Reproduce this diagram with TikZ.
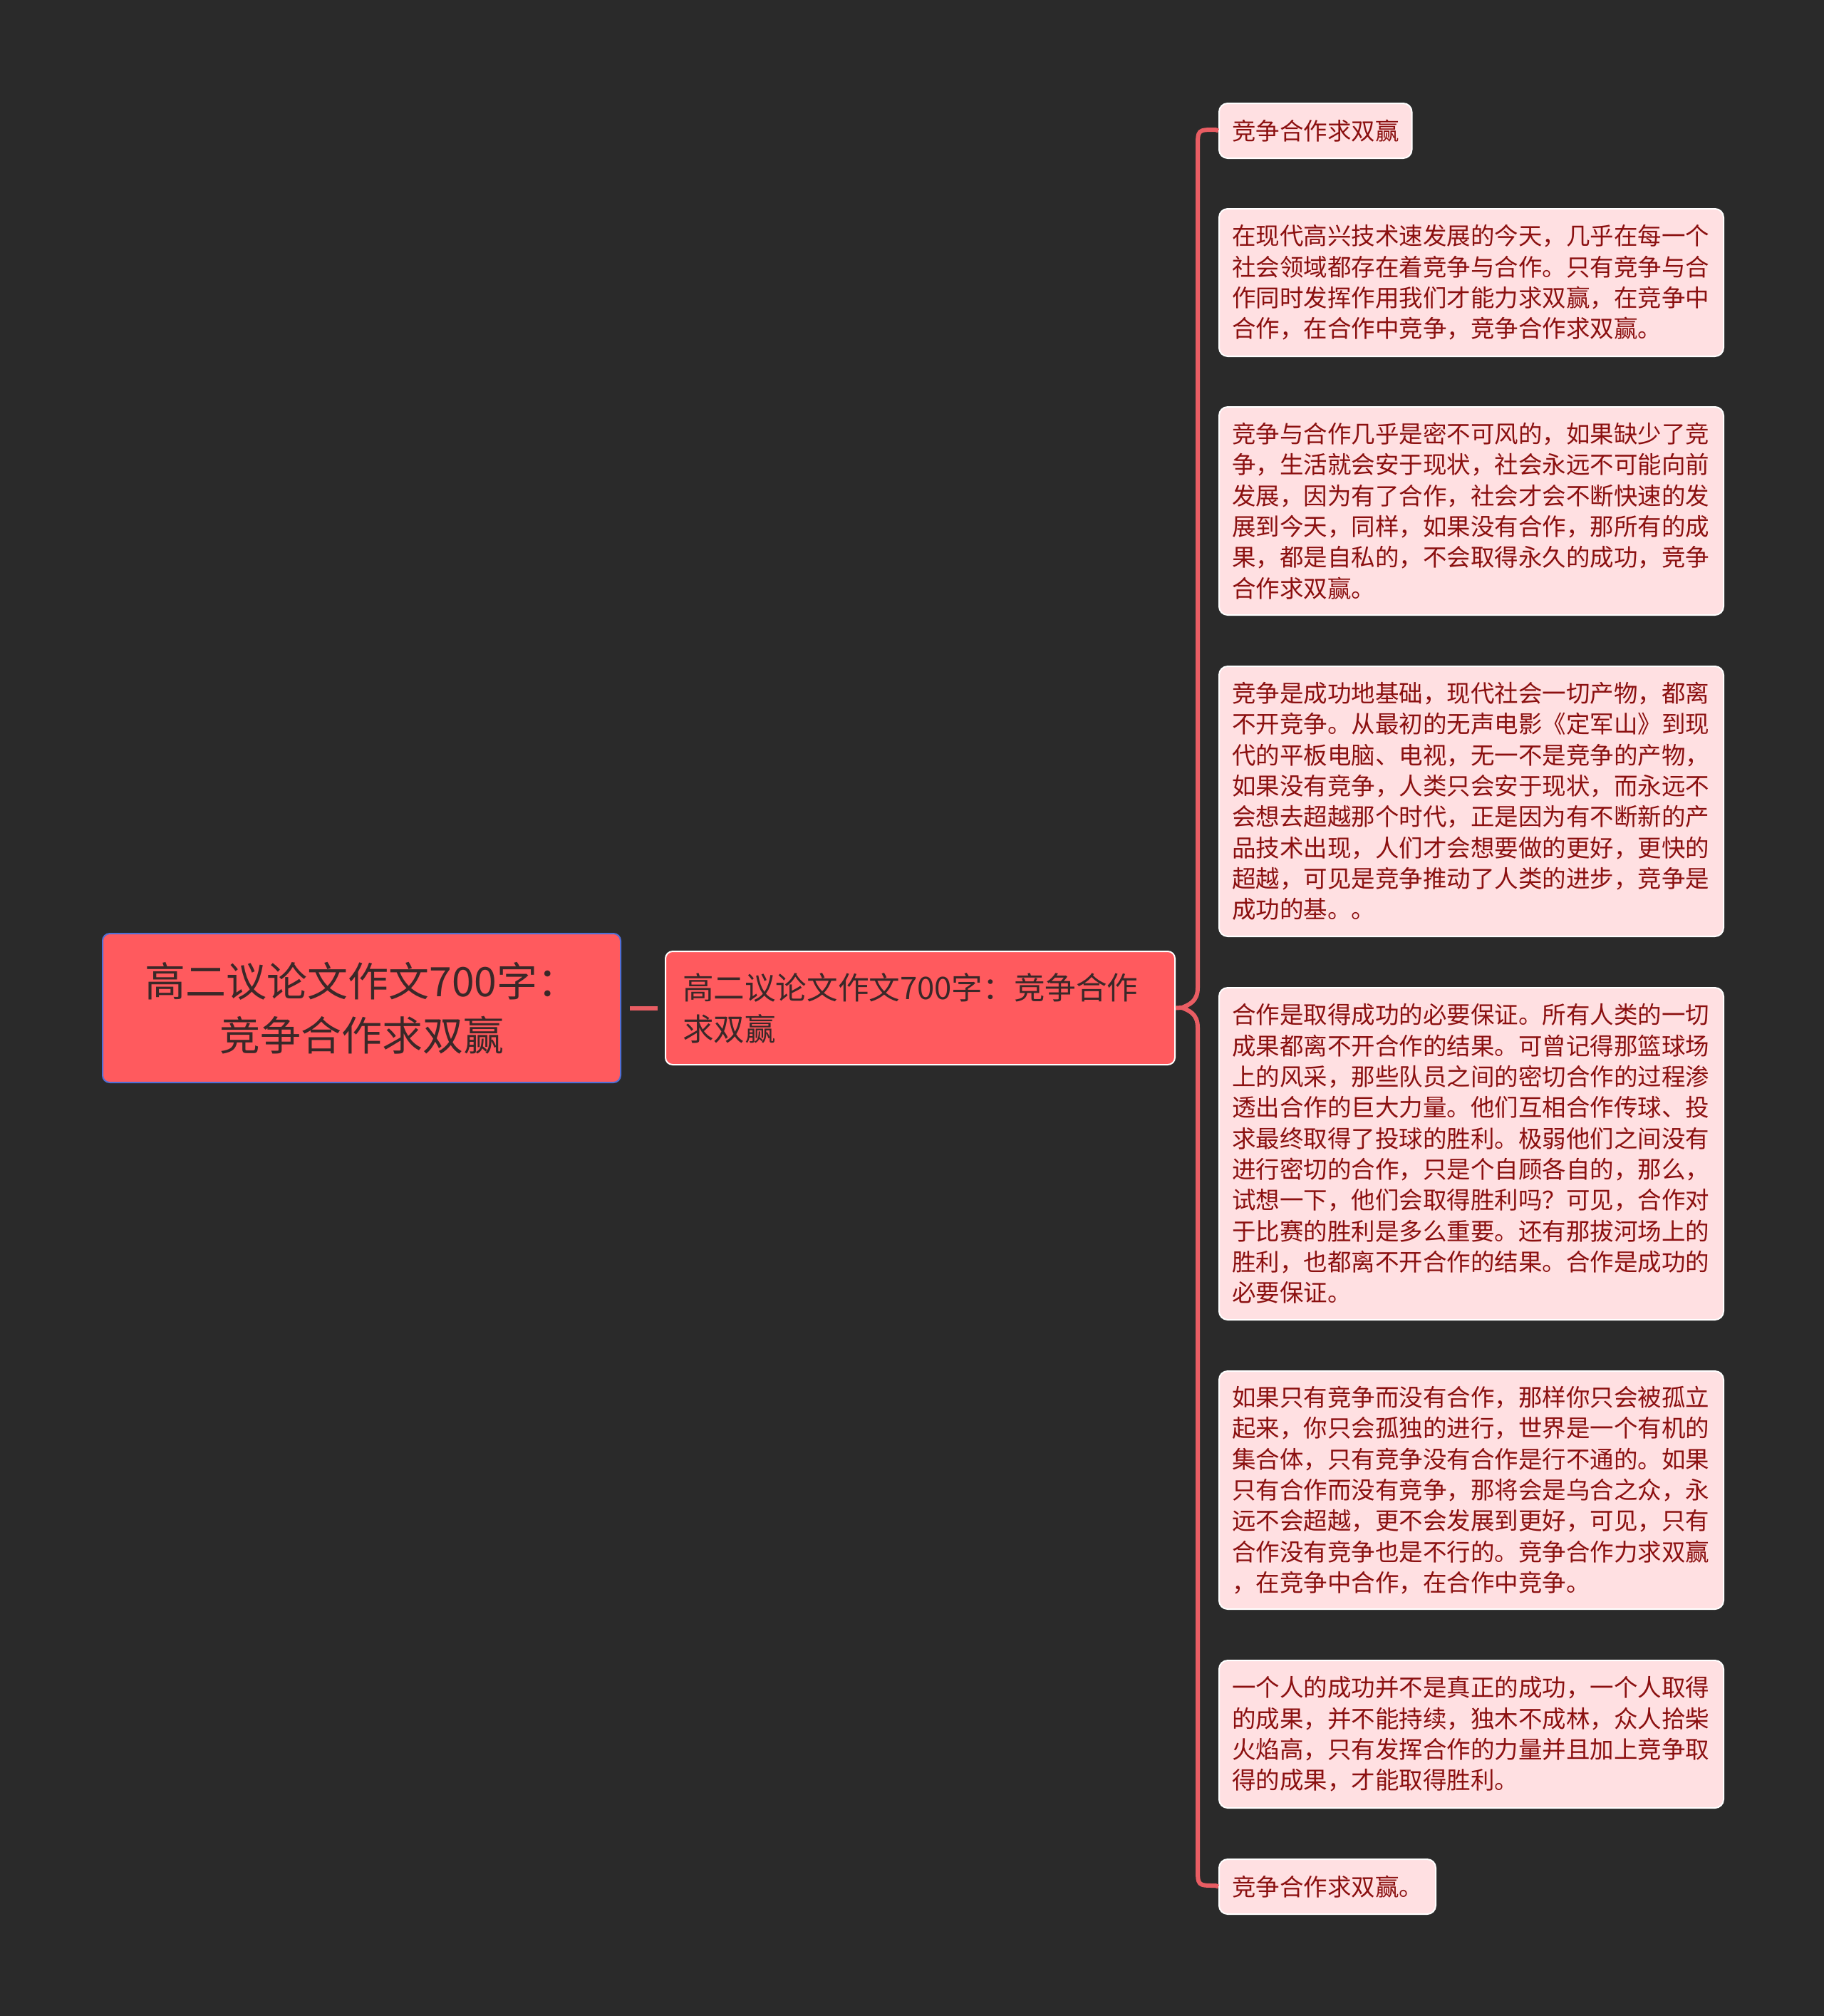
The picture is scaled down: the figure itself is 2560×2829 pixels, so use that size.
\documentclass[tikz,border=0pt]{standalone}
\usepackage{fontspec}
\setmainfont{Noto Sans CJK SC}
\definecolor{bgdark}{HTML}{2A2A2A}
\definecolor{rootred}{HTML}{FF5A5E}
\definecolor{rootblue}{HTML}{4F6FD6}
\definecolor{darktext}{HTML}{3A2828}
\definecolor{leaffill}{HTML}{FFE0E2}
\definecolor{leaftext}{HTML}{8B1010}
\definecolor{linkred}{HTML}{E95D63}

\begin{document}
\begin{tikzpicture}[x=0.5pt,y=-0.5pt,
  rootbox/.style={draw=rootblue,line width=1pt,fill=rootred,rounded corners=5pt,
    text=darktext,align=center,minimum width=363.5pt,minimum height=104.5pt,
    font=\fontsize{28.5pt}{38pt}\selectfont},
  mainbox/.style={draw=white,line width=1pt,fill=rootred,rounded corners=5pt,
    text=darktext,align=left,text width=333.5pt,inner xsep=12pt,minimum height=79.5pt,
    font=\fontsize{21.8pt}{29pt}\selectfont},
  leaf/.style={draw=white,line width=1pt,fill=leaffill,rounded corners=6pt,
    text=leaftext,align=left,anchor=north west,inner xsep=9pt,inner ysep=0pt,
    font=\fontsize{16.75pt}{21.65pt}\selectfont},
  longleaf/.style={leaf,text width=336pt},
  link/.style={linkred,line width=3pt}]
\useasboundingbox (0,0) rectangle (2560,2829);
\fill[bgdark] (0,0) rectangle (2560,2829);

\node[rootbox] (root) at (507.5,1414.5) {高二议论文作文700字：\\竞争合作求双赢};
\node[mainbox] (main) at (1291.5,1414.5) {高二议论文作文700字：竞争合作\\求双赢};

\node[leaf,minimum height=38.5pt] (l1) at (1710,144) {竞争合作求双赢};
\node[longleaf,minimum height=103.5pt] (l2) at (1710,292) {在现代高兴技术速发展的今天，几乎在每一个\\社会领域都存在着竞争与合作。只有竞争与合\\作同时发挥作用我们才能力求双赢，在竞争中\\合作，在合作中竞争，竞争合作求双赢。};
\node[longleaf,minimum height=146pt] (l3) at (1710,570) {竞争与合作几乎是密不可风的，如果缺少了竞\\争，生活就会安于现状，社会永远不可能向前\\发展，因为有了合作，社会才会不断快速的发\\展到今天，同样，如果没有合作，那所有的成\\果，都是自私的，不会取得永久的成功，竞争\\合作求双赢。};
\node[longleaf,minimum height=189.5pt] (l4) at (1710,934) {竞争是成功地基础，现代社会一切产物，都离\\不开竞争。从最初的无声电影《定军山》到现\\代的平板电脑、电视，无一不是竞争的产物，\\如果没有竞争，人类只会安于现状，而永远不\\会想去超越那个时代，正是因为有不断新的产\\品技术出现，人们才会想要做的更好，更快的\\超越，可见是竞争推动了人类的进步，竞争是\\成功的基。。};
\node[longleaf,minimum height=233pt] (l5) at (1710,1385) {合作是取得成功的必要保证。所有人类的一切\\成果都离不开合作的结果。可曾记得那篮球场\\上的风采，那些队员之间的密切合作的过程渗\\透出合作的巨大力量。他们互相合作传球、投\\求最终取得了投球的胜利。极弱他们之间没有\\进行密切的合作，只是个自顾各自的，那么，\\试想一下，他们会取得胜利吗？可见，合作对\\于比赛的胜利是多么重要。还有那拔河场上的\\胜利，也都离不开合作的结果。合作是成功的\\必要保证。};
\node[longleaf,minimum height=167pt] (l6) at (1710,1923) {如果只有竞争而没有合作，那样你只会被孤立\\起来，你只会孤独的进行，世界是一个有机的\\集合体，只有竞争没有合作是行不通的。如果\\只有合作而没有竞争，那将会是乌合之众，永\\远不会超越，更不会发展到更好，可见，只有\\合作没有竞争也是不行的。竞争合作力求双赢\\，在竞争中合作，在合作中竞争。};
\node[longleaf,minimum height=103.5pt] (l7) at (1710,2329) {一个人的成功并不是真正的成功，一个人取得\\的成果，并不能持续，独木不成林，众人拾柴\\火焰高，只有发挥合作的力量并且加上竞争取\\得的成果，才能取得胜利。};
\node[leaf,minimum height=38.5pt] (l8) at (1710,2608) {竞争合作求双赢。};

\coordinate (tip) at (1659,1414);
\draw[link,shorten <=6pt,shorten >=5pt] (root.east) -- (main.west);
\draw[link] (main.east) -- (tip);
\draw[link] (l1.west) -- (1706,182) .. controls (1681,182) .. (1681,207)
  -- (1681,1386) .. controls (1681,1406) and (1668,1410) .. (tip)
  .. controls (1668,1418) and (1681,1422) .. (1681,1442)
  -- (1681,2621) .. controls (1681,2646) .. (1706,2646) -- (l8.west);
\end{tikzpicture}
\end{document}
